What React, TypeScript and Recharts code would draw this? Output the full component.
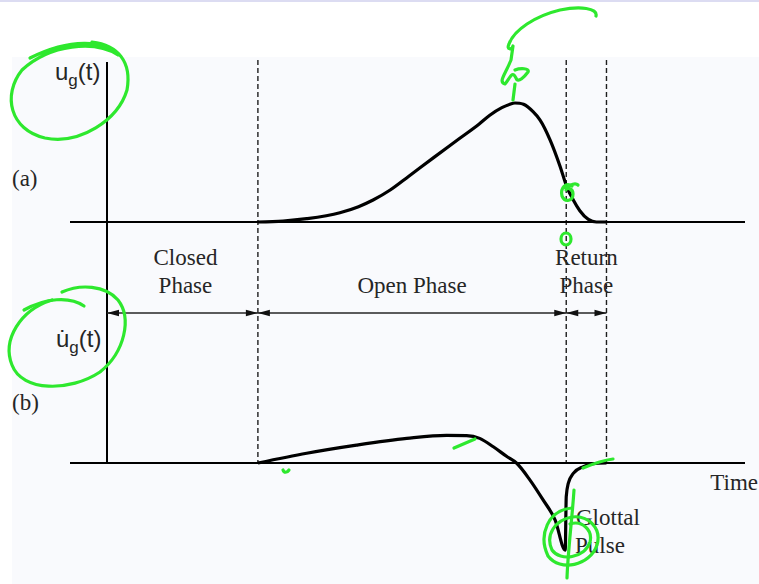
import React from 'react';
import { ComposedChart, Line, XAxis, YAxis, ReferenceLine } from 'recharts';

// Time axis (arbitrary units, ms-like)
const phaseBoundaries = [0, 3.0, 9.13, 9.93]; // closed start, open start, return start, closure
const phaseLabels = [['Closed', 'Phase'], ['Open Phase'], ['Return', 'Phase']];

// (a) glottal flow u_g(t)
const flowT = [3.0, 3.5, 3.97, 4.63, 5.0, 5.29, 5.63, 6.0, 6.5, 7.0, 7.4, 7.61, 7.85, 8.0, 8.11, 8.2, 8.28, 8.47, 8.61, 8.81, 9.01, 9.14, 9.27, 9.4, 9.57, 9.73, 9.93];
const flowU = [0, 0.008, 0.028, 0.078, 0.129, 0.185, 0.269, 0.385, 0.543, 0.699, 0.824, 0.897, 0.961, 0.988, 1.0, 0.998, 0.989, 0.927, 0.857, 0.689, 0.465, 0.297, 0.185, 0.095, 0.022, 0, 0];

// (b) flow derivative du_g/dt
const derivT = [3.0, 3.97, 4.96, 5.96, 6.75, 7.15, 7.41, 7.68, 7.95, 8.14, 8.41, 8.67, 8.91, 9.11, 9.13, 9.17, 9.27, 9.47, 9.67, 9.93];
const derivU = [0, 0.35, 0.64, 0.88, 0.99, 0.98, 0.88, 0.58, 0.23, 0, -0.61, -1.32, -2.04, -3.11, -1.2, -0.73, -0.37, -0.13, -0.02, 0];

const flowData = flowT.map((t, i) => ({ t, u: flowU[i] }));
const derivData = derivT.map((t, i) => ({ t, du: derivU[i] }));

// Layout
const W = 759;
const H = 584;
const PLOT_LEFT = 70;
const PLOT_RIGHT = 745;
const PLOT_TOP = 60;
const PLOT_BOTTOM = 560;
const PX_PER_T = 50.3;
const ORIGIN_X = 107;
const X_MIN = -(ORIGIN_X - PLOT_LEFT) / PX_PER_T;
const X_MAX = X_MIN + (PLOT_RIGHT - PLOT_LEFT) / PX_PER_T;

// panel (a): zero line and unit size in px
const A_ZERO = 222;
const A_UNIT = 119;
const A_DOMAIN = [-(PLOT_BOTTOM - A_ZERO) / A_UNIT, (A_ZERO - PLOT_TOP) / A_UNIT];
// panel (b)
const B_ZERO = 463;
const B_UNIT = 28;
const B_DOMAIN = [-(PLOT_BOTTOM - B_ZERO) / B_UNIT, (B_ZERO - PLOT_TOP) / B_UNIT];
const bAt = (py: number) => (B_ZERO - py) / B_UNIT;

const AXIS_TOP_Y = 62;
const ARROW_Y = 313;

const px = (t: number) => PLOT_LEFT + (t - X_MIN) * PX_PER_T;

const SERIF = '"Liberation Serif", "Times New Roman", serif';
const SANS = '"Liberation Sans", Arial, sans-serif';
const INK = '#262626';
const GREEN = '#2ee82e';

const DoubleArrow = (p: any) => {
  const { x1, x2, y1 } = p;
  const L = 12;
  const hw = 3.2;
  return (
    <g>
      <line x1={x1} y1={y1} x2={x2} y2={y1} stroke={INK} strokeWidth={1.6} />
      <polygon points={`${x1},${y1} ${x1 + L},${y1 - hw} ${x1 + L},${y1 + hw}`} fill="#111" />
      <polygon points={`${x2},${y1} ${x2 - L},${y1 - hw} ${x2 - L},${y1 + hw}`} fill="#111" />
    </g>
  );
};

export default function App() {
  const arrowLevel = bAt(ARROW_Y);
  return (
    <div style={{ position: 'absolute', left: 0, top: 0, width: W, height: H, background: '#fff', overflow: 'hidden' }}>
      <div style={{ position: 'absolute', left: 0, top: 0, width: W, height: 2, background: '#dcdcf2' }} />
      <div style={{ position: 'absolute', left: 12, top: 57, right: 0, bottom: 0, background: '#f9fafd' }} />
      <div style={{ position: 'absolute', left: 0, top: 0 }}>
        <ComposedChart width={W} height={H} margin={{ top: PLOT_TOP, left: PLOT_LEFT, right: W - PLOT_RIGHT, bottom: H - PLOT_BOTTOM }}>
          <XAxis type="number" dataKey="t" domain={[X_MIN, X_MAX]} allowDataOverflow hide />
          <YAxis yAxisId="a" type="number" domain={A_DOMAIN} allowDataOverflow hide />
          <YAxis yAxisId="b" type="number" domain={B_DOMAIN} allowDataOverflow hide />

          {/* phase boundaries */}
          {phaseBoundaries.slice(1).map((t) => (
            <ReferenceLine
              key={`d${t}`}
              yAxisId="b"
              segment={[{ x: t, y: bAt(PLOT_TOP) }, { x: t, y: 0 }]}
              stroke="#1e1e1e"
              strokeWidth={1.4}
              strokeDasharray="5 3"
              ifOverflow="visible"
            />
          ))}

          {/* axes */}
          <ReferenceLine yAxisId="a" y={0} stroke="#000" strokeWidth={2} />
          <ReferenceLine yAxisId="b" y={0} stroke="#000" strokeWidth={2} />
          <ReferenceLine
            yAxisId="b"
            segment={[{ x: phaseBoundaries[0], y: bAt(AXIS_TOP_Y) }, { x: phaseBoundaries[0], y: 0 }]}
            stroke="#000"
            strokeWidth={2}
            ifOverflow="visible"
          />

          {/* phase duration arrows */}
          {phaseBoundaries.slice(0, -1).map((t, i) => (
            <ReferenceLine
              key={`a${t}`}
              yAxisId="b"
              segment={[{ x: t, y: arrowLevel }, { x: phaseBoundaries[i + 1], y: arrowLevel }]}
              shape={DoubleArrow}
              ifOverflow="visible"
            />
          ))}

          <Line
            yAxisId="a"
            data={flowData}
            dataKey="u"
            type="monotone"
            stroke="#000"
            strokeWidth={3.2}
            dot={false}
            activeDot={false}
            isAnimationActive={false}
          />
          <Line
            yAxisId="b"
            data={derivData}
            dataKey="du"
            type="monotone"
            stroke="#000"
            strokeWidth={3.2}
            dot={false}
            activeDot={false}
            isAnimationActive={false}
          />
        </ComposedChart>
      </div>

      <svg width={W} height={H} style={{ position: 'absolute', left: 0, top: 0, pointerEvents: 'none' }}>
        {/* panel labels */}
        <text x={55} y={80} fontFamily={SANS} fontSize={24} fill={INK}>
          u<tspan dy={6} fontSize={17}>g</tspan>
          <tspan dy={-6} fontSize={24}>(t)</tspan>
        </text>
        <text x={12} y={186} fontFamily={SERIF} fontSize={23} fill={INK}>(a)</text>
        <text x={56} y={347} fontFamily={SANS} fontSize={24} fill={INK}>
          {'u\u0307'}<tspan dy={6} fontSize={17}>g</tspan>
          <tspan dy={-6} fontSize={24}>(t)</tspan>
        </text>
        <text x={12} y={410} fontFamily={SERIF} fontSize={23} fill={INK}>(b)</text>

        {/* phase names */}
        {phaseLabels.map((lines, i) => {
          const cx = (px(phaseBoundaries[i]) + px(phaseBoundaries[i + 1])) / 2 + (i === 0 ? 3 : 0);
          const y0 = lines.length === 2 ? 265 : 293;
          return lines.map((s, j) => (
            <text key={`${i}-${j}`} x={cx} y={y0 + j * 28} textAnchor="middle" fontFamily={SERIF} fontSize={23} fill={INK}>
              {s}
            </text>
          ));
        })}

        <text x={758} y={490} textAnchor="end" fontFamily={SERIF} fontSize={23} fill={INK}>Time</text>
        <text x={576} y={525} fontFamily={SERIF} fontSize={23} fill={INK}>Glottal</text>
        <text x={575} y={553} fontFamily={SERIF} fontSize={23} fill={INK}>Pulse</text>

        {/* green pen annotations */}
        <g fill="none" stroke={GREEN} strokeWidth={3.2} strokeLinecap="round" strokeLinejoin="round">
          <path d="M 30 58 C 70 38, 105 40, 118 55 C 95 40, 50 44, 22 70 C 2 95, 10 130, 45 138 C 80 145, 118 120, 127 90 C 132 62, 118 45, 92 42" />
          <path d="M 24 310 C 45 298, 70 296, 84 306" />
          <path d="M 52 300 C 20 310, 2 340, 12 365 C 22 392, 70 392, 100 372 C 125 352, 132 318, 118 300 C 105 285, 80 284, 62 292" />
          <path d="M 596 16 C 598 8, 580 6, 560 10 C 535 16, 514 30, 509 44 C 506 50, 512 50, 513 46 L 511 60 C 505 75, 498 82, 505 84 C 510 78, 512 70, 516 78 C 518 84, 525 76, 528 72 C 530 68, 520 68, 515 70 M 515 84 L 513 100" />
          <path d="M 572 186 C 566 182, 560 188, 562 196 C 565 203, 573 201, 573 194 C 573 188, 566 187, 566 190 M 566 188 C 570 184, 576 183, 578 185" />
          <ellipse cx={566} cy={239} rx={5} ry={6} />
          <path d="M 283 470 C 284 473, 287 473, 289 470" />
          <path d="M 454 448 L 475 439" />
          <path d="M 583 468 C 595 463, 605 460, 613 459" />
          <path d="M 572 508 C 548 510, 538 535, 548 556 C 560 572, 590 566, 597 545 C 602 528, 588 515, 572 517 C 555 520, 545 535, 552 550 C 560 562, 585 558, 590 542 C 593 530, 582 520, 570 524" />
          <path d="M 574 490 C 572 520, 568 550, 567 578" />
        </g>
      </svg>
    </div>
  );
}
